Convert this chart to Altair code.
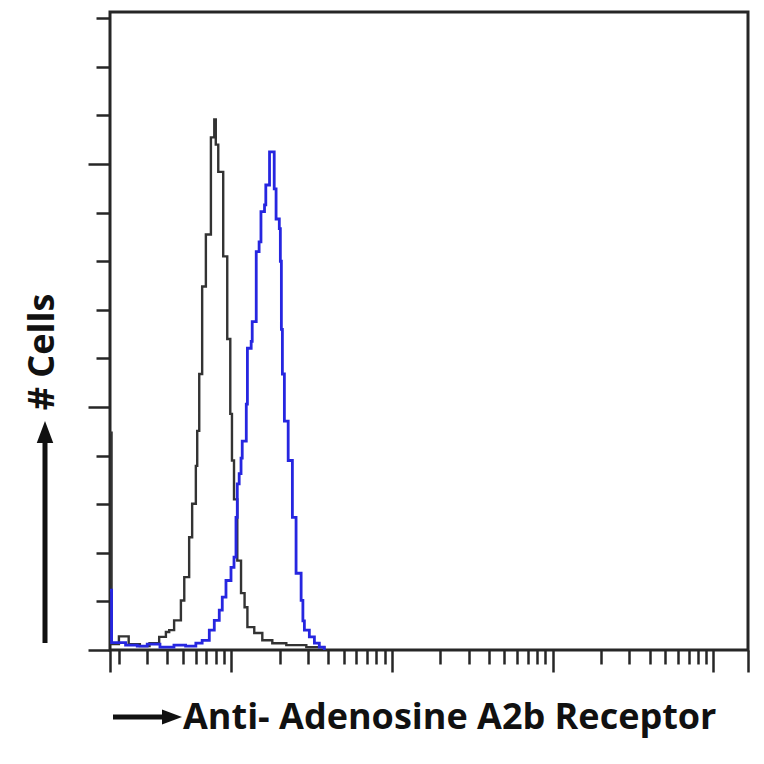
import altair as alt
import pandas as pd

# Control (black) histogram: bin start (fluorescence, log scale) and event counts
black_x = [1.76, 1.80, 2.0, 2.3, 2.7, 3.1, 3.56, 3.92, 4.11, 4.41, 4.86, 5.10, 5.47,
           5.71, 6.02, 6.14, 6.32, 6.59, 6.95, 7.47, 7.84, 8.01, 8.30, 8.91, 9.44,
           9.86, 10.1, 10.4, 10.9, 11.5, 12.1, 12.6, 13.9, 15.6, 18.0, 22.0, 29.3, 37.9]
black_count = [44.7, 1.2, 2.8, 1.2, 0.8, 1.4, 2.7, 3.7, 4.1, 6.1, 10.2, 15.0, 23.2,
               30.1, 37.9, 45.1, 56.8, 74.8, 85.5, 105.5, 109.2, 104.0, 98.4, 81.0, 64.0,
               48.6, 39.0, 31.0, 18.4, 11.7, 8.8, 4.7, 3.5, 2.0, 1.4, 1.0, 0.6, 0.0]

# Anti-Adenosine A2b Receptor (blue) histogram
blue_x = [1.76, 1.80, 2.2, 2.6, 3.0, 3.6, 4.4, 5.2, 6.02, 6.59, 7.30, 7.84, 8.42, 8.79,
          9.27, 9.96, 10.4, 10.7, 10.9, 11.2, 11.5, 11.7, 12.4, 12.6, 13.3, 13.5, 14.3,
          14.9, 15.3, 16.1, 16.4, 17.3, 18.5, 19.0, 19.9, 20.2, 20.5, 20.8, 21.4, 22.6,
          24.0, 25.3, 27.2, 27.9, 28.5, 30.6, 32.9, 35.3, 37.9]
blue_count = [12.3, 1.5, 1.0, 0.8, 1.2, 0.6, 1.0, 0.8, 1.4, 2.0, 4.1, 6.1, 8.2, 10.9,
              14.3, 17.0, 19.1, 27.3, 34.2, 36.3, 39.5, 43.0, 50.6, 62.1, 63.5, 67.6, 82.0,
              84.0, 90.2, 91.6, 95.7, 102.5, 94.9, 88.7, 86.7, 80.0, 66.0, 56.8, 47.1, 39.0,
              27.3, 15.8, 10.2, 6.0, 4.1, 2.7, 1.4, 0.6, 0.0]

x_domain = [1.76, 16400]
x_major = [1.76, 10, 100, 1000, 10000, 16400]
x_minor = [m * 10 ** k for k in range(0, 4) for m in range(2, 10)]
y_ticks = list(range(0, 131, 10))
y_domain = [0, 131.3]

x_title = "Anti- Adenosine A2b Receptor"
y_title = "# Cells"

INK = "#262626"
FONT = "Open Sans"

black_df = pd.DataFrame({"x": black_x, "count": black_count})
blue_df = pd.DataFrame({"x": blue_x, "count": blue_count})

x_enc = alt.X(
    "x:Q",
    scale=alt.Scale(type="log", domain=x_domain, nice=False),
    axis=alt.Axis(
        values=sorted(x_major + x_minor),
        labels=False,
        title=None,
        domain=False,
        grid=False,
        tickColor=INK,
        tickWidth=2.5,
        tickSize={
            "condition": {
                "test": "datum.value === 10 || datum.value === 100 || datum.value === 1000 || datum.value === 10000 || datum.value < 1.8 || datum.value > 16000",
                "value": 22,
            },
            "value": 14,
        },
    ),
)
y_enc = alt.Y(
    "count:Q",
    scale=alt.Scale(domain=y_domain, nice=False, zero=True),
    axis=alt.Axis(
        values=y_ticks,
        labels=False,
        title=None,
        domain=False,
        grid=False,
        tickColor=INK,
        tickWidth=2.5,
        tickSize={"condition": {"test": "datum.value % 50 === 0", "value": 22}, "value": 14},
    ),
)

black = alt.Chart(black_df).mark_line(
    interpolate="step-after", color="#333333", strokeWidth=2.4
).encode(x=x_enc, y=y_enc)

blue = alt.Chart(blue_df).mark_line(
    interpolate="step-after", color="#2626e0", strokeWidth=2.8
).encode(x=x_enc, y=y_enc)

one = pd.DataFrame({"k": [0]})

x_label = alt.Chart(one).mark_text(
    font=FONT, fontSize=36, fontWeight="bold", color="#111111", align="left", baseline="middle"
).encode(x=alt.value(73), y=alt.value(706), text=alt.value(x_title))

y_label = alt.Chart(one).mark_text(
    font=FONT, fontSize=36, fontWeight="bold", color="#111111", align="center",
    baseline="middle", angle=270
).encode(x=alt.value(-67), y=alt.value(340), text=alt.value(y_title))

x_shaft = alt.Chart(one).mark_rule(color="#111111", strokeWidth=5).encode(
    x=alt.value(3), x2=alt.value(56), y=alt.value(705)
)
x_head = alt.Chart(one).mark_point(
    shape="M -1 -0.75 L 1 0 L -1 0.75 Z", filled=True, color="#111111", opacity=1, size=400
).encode(x=alt.value(62), y=alt.value(705))

y_shaft = alt.Chart(one).mark_rule(color="#111111", strokeWidth=5).encode(
    x=alt.value(-65), y=alt.value(631), y2=alt.value(425)
)
y_head = alt.Chart(one).mark_point(
    shape="M -0.75 1 L 0 -1 L 0.75 1 Z", filled=True, color="#111111", opacity=1, size=484
).encode(x=alt.value(-65), y=alt.value(420))

chart = alt.layer(
    black, blue, x_label, y_label, x_shaft, x_head, y_shaft, y_head
).properties(
    width=638,
    height=638,
    autosize="none",
    padding={"left": 102, "top": 4, "right": 8, "bottom": 100},
).configure_view(stroke=INK, strokeWidth=3)

chart.save("out.html", embed_options={"renderer": "svg", "actions": False})
